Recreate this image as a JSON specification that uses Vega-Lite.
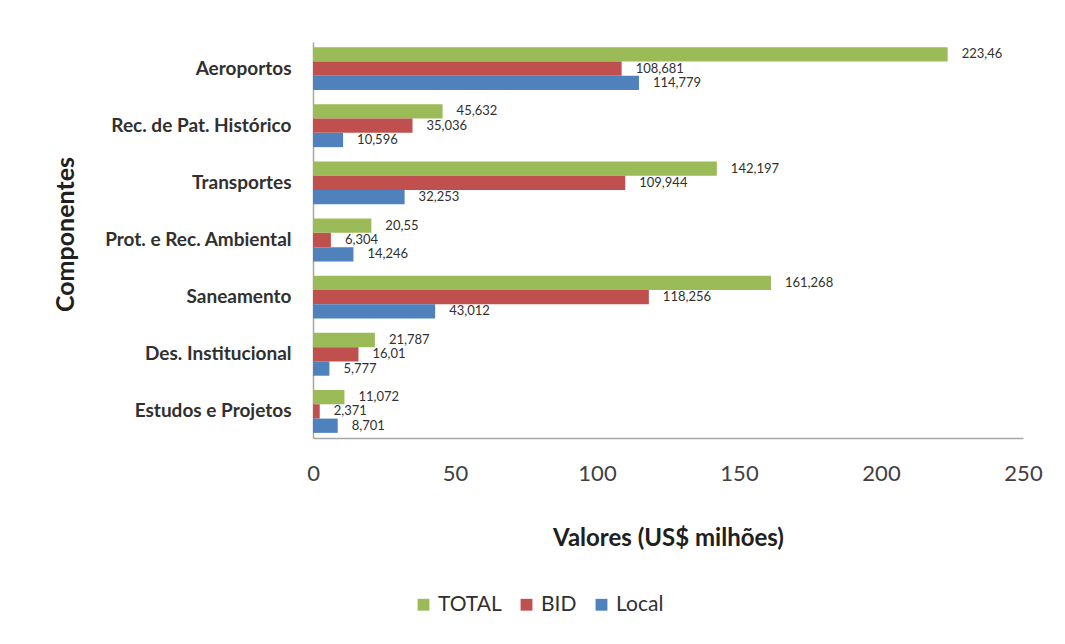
{
  "$schema": "https://vega.github.io/schema/vega-lite/v6.json",
  "width": 710,
  "height": 396,
  "autosize": {"type": "none"},
  "padding": {"left": 313, "top": 42, "right": 42, "bottom": 206},
  "background": "white",
  "data": {
    "values": [
      {"componente": "Aeroportos", "serie": "TOTAL", "valor": 223.46},
      {"componente": "Aeroportos", "serie": "BID", "valor": 108.681},
      {"componente": "Aeroportos", "serie": "Local", "valor": 114.779},
      {"componente": "Rec. de Pat. Histórico", "serie": "TOTAL", "valor": 45.632},
      {"componente": "Rec. de Pat. Histórico", "serie": "BID", "valor": 35.036},
      {"componente": "Rec. de Pat. Histórico", "serie": "Local", "valor": 10.596},
      {"componente": "Transportes", "serie": "TOTAL", "valor": 142.197},
      {"componente": "Transportes", "serie": "BID", "valor": 109.944},
      {"componente": "Transportes", "serie": "Local", "valor": 32.253},
      {"componente": "Prot. e Rec. Ambiental", "serie": "TOTAL", "valor": 20.55},
      {"componente": "Prot. e Rec. Ambiental", "serie": "BID", "valor": 6.304},
      {"componente": "Prot. e Rec. Ambiental", "serie": "Local", "valor": 14.246},
      {"componente": "Saneamento", "serie": "TOTAL", "valor": 161.268},
      {"componente": "Saneamento", "serie": "BID", "valor": 118.256},
      {"componente": "Saneamento", "serie": "Local", "valor": 43.012},
      {"componente": "Des. Institucional", "serie": "TOTAL", "valor": 21.787},
      {"componente": "Des. Institucional", "serie": "BID", "valor": 16.01},
      {"componente": "Des. Institucional", "serie": "Local", "valor": 5.777},
      {"componente": "Estudos e Projetos", "serie": "TOTAL", "valor": 11.072},
      {"componente": "Estudos e Projetos", "serie": "BID", "valor": 2.371},
      {"componente": "Estudos e Projetos", "serie": "Local", "valor": 8.701}
    ]
  },
  "encoding": {
    "y": {
      "field": "componente",
      "type": "nominal",
      "sort": ["Aeroportos", "Rec. de Pat. Histórico", "Transportes", "Prot. e Rec. Ambiental", "Saneamento", "Des. Institucional", "Estudos e Projetos"],
      "scale": {"paddingInner": 0.25, "paddingOuter": 0.09},
      "axis": {
        "title": "Componentes",
        "ticks": false,
        "labelPadding": 22,
        "labelLimit": 300,
        "labelFont": "Lato",
        "labelFontSize": 19,
        "labelFontWeight": "bold",
        "labelColor": "#303030",
        "domainColor": "#a6a6a6",
        "domainWidth": 1.5,
        "titleFont": "Lato",
        "titleFontSize": 25,
        "titleFontWeight": "bold",
        "titleColor": "#202020",
        "titleAngle": 270,
        "titleX": -248,
        "titleY": 192,
        "titleAlign": "center",
        "titleBaseline": "middle"
      }
    },
    "yOffset": {"field": "serie", "type": "nominal", "sort": ["TOTAL", "BID", "Local"]},
    "x": {
      "field": "valor",
      "type": "quantitative",
      "scale": {"domain": [0, 250], "nice": false},
      "axis": {
        "title": "Valores (US$ milhões)",
        "values": [0, 50, 100, 150, 200, 250],
        "grid": false,
        "ticks": false,
        "labelPadding": 25,
        "labelFont": "Lato",
        "labelFontSize": 22,
        "labelColor": "#404040",
        "labelFlush": false,
        "domainColor": "#a6a6a6",
        "domainWidth": 1.5,
        "titleFont": "Lato",
        "titleFontSize": 24,
        "titleFontWeight": "bold",
        "titleColor": "#202020",
        "titleY": 100,
        "titleBaseline": "middle"
      }
    }
  },
  "layer": [
    {
      "mark": {"type": "bar"},
      "encoding": {
        "color": {
          "field": "serie",
          "type": "nominal",
          "scale": {"domain": ["TOTAL", "BID", "Local"], "range": ["#9BBB59", "#C0504D", "#4F81BD"]},
          "legend": {
            "title": null,
            "orient": "none",
            "direction": "horizontal",
            "legendX": 100,
            "legendY": 552,
            "symbolType": "square",
            "symbolSize": 140,
            "symbolStrokeWidth": 0,
            "labelFont": "Lato",
            "labelFontSize": 21,
            "labelColor": "#303030",
            "columnPadding": 14,
            "labelOffset": 4
          }
        }
      }
    },
    {
      "mark": {"type": "text", "align": "left", "baseline": "middle", "dx": 14, "font": "Lato", "fontSize": 13, "color": "#303030"},
      "encoding": {
        "text": {"field": "valor", "type": "quantitative", "format": "~g"}
      }
    }
  ],
  "config": {
    "view": {"stroke": null},
    "locale": {
      "number": {"decimal": ",", "thousands": ".", "grouping": [3], "currency": ["", ""]}
    }
  }
}
